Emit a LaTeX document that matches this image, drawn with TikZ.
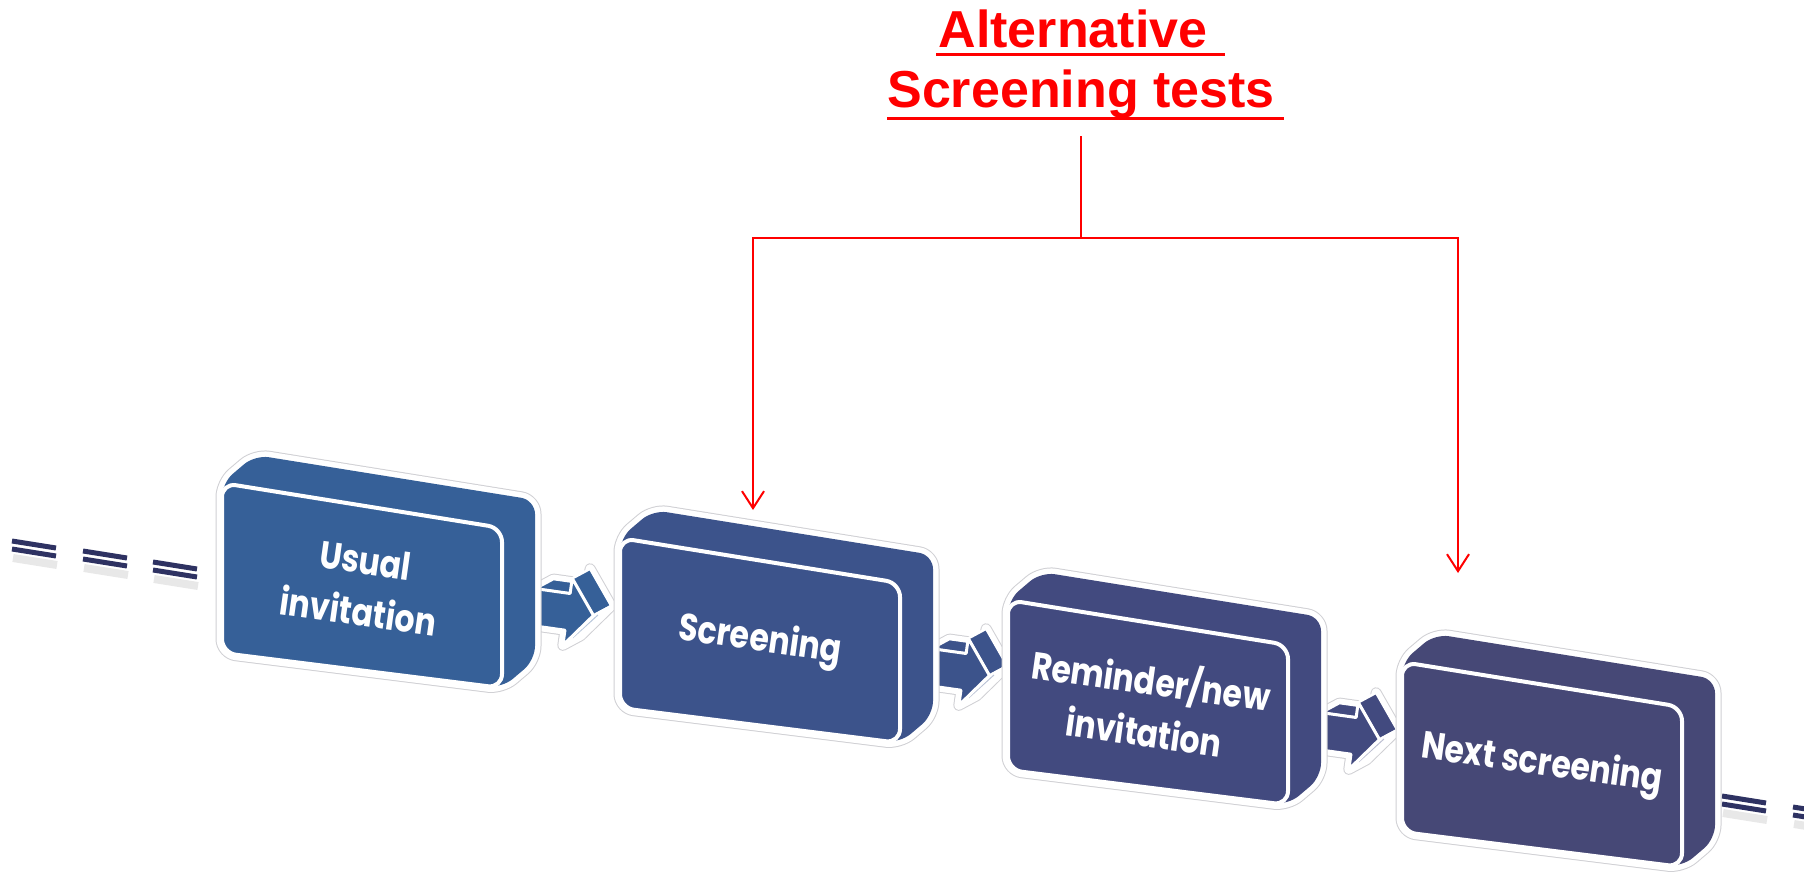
\documentclass[tikz,border=0pt]{standalone}
\usepackage{fontspec}
\setmainfont{Liberation Sans}
\newfontfamily\boxfont{Poppins}
\usetikzlibrary{arrows.meta}
\definecolor{boxA}{RGB}{54,96,152}
\definecolor{boxB}{RGB}{60,83,139}
\definecolor{boxC}{RGB}{66,74,127}
\definecolor{boxD}{RGB}{70,72,118}
\definecolor{dashc}{RGB}{46,50,98}
\definecolor{haloc}{RGB}{208,208,212}
\definecolor{titlered}{RGB}{255,0,0}

\tikzset{
  halo/.style={draw=haloc, line width=13pt, line join=round},
  haloin/.style={draw=white, fill=white, line width=11pt, line join=round},
  boxtext/.style={text=white, align=center, font=\boxfont\bfseries\fontsize{38}{52}\selectfont, inner sep=0pt},
  redline/.style={draw=titlered, line width=2pt},
  redarrow/.style={redline, -{Straight Barb[length=17pt,width=22pt]}},
  titletext/.style={text=titlered, font=\bfseries\fontsize{52}{60}\selectfont, inner sep=0pt},
  underl/.style={draw=titlered, line width=3pt},
  dashline/.style={draw=dashc, line width=5pt},
  dashshadow/.style={draw=gray, line width=8pt, opacity=0.18},
}

% 3D box: x, y (front top-left, px), colour, node name, text
\newcommand\cubebox[5]{%
  \begin{scope}[shift={(#1,#2)}]
    \path[halo, rounded corners=14pt] (0,170) -- (0,0) -- (33,-28) -- (313,17) -- (313,177) -- (280,205) -- cycle;
    \path[haloin, rounded corners=14pt] (0,170) -- (0,0) -- (33,-28) -- (313,17) -- (313,177) -- (280,205) -- cycle;
    \path[fill=#3, rounded corners=14pt] (0,170) -- (0,0) -- (33,-28) -- (313,17) -- (313,177) -- (280,205) -- cycle;
    \path[fill=#3, draw=white, line width=4pt, rounded corners=14pt] (0,0) -- (280,45) -- (280,205) -- (0,170) -- cycle;
    \node[boxtext, rotate=-8, xscale=0.83] (#4) at (140,103) {#5};
  \end{scope}}

% 3D block arrow: x, y (shaft left centre, px), colour
\newcommand\blockarrow[3]{%
  \begin{scope}[shift={(#1,#2)}, rotate=-8, scale=1.09]
    \path[draw=haloc, line width=11pt, line join=round] (0,17) -- (0,-17) -- (15,-28) -- (47,-28) -- (47,-42) -- (71,-11) -- (47,20) -- (32,31) -- (32,17) -- cycle;
    \path[draw=white, fill=white, line width=9pt, line join=round] (0,17) -- (0,-17) -- (15,-28) -- (47,-28) -- (47,-42) -- (71,-11) -- (47,20) -- (32,31) -- (32,17) -- cycle;
    \path[fill=#3, draw=white, line width=2.5pt, line join=round] (0,-17) -- (15,-28) -- (47,-28) -- (32,-17) -- cycle;
    \path[fill=#3, draw=white, line width=2.5pt, line join=round] (32,-31) -- (47,-42) -- (71,-11) -- (56,0) -- cycle;
    \path[fill=white, draw=white, line width=2.5pt, line join=round] (56,0) -- (71,-11) -- (47,20) -- (32,31) -- cycle;
    \path[draw=#3!35, line width=1pt] (60,-1) -- (40,23);
    \path[fill=#3, draw=white, line width=3pt, line join=round] (0,-17) -- (32,-17) -- (32,-31) -- (56,0) -- (32,31) -- (32,17) -- (0,17) -- cycle;
  \end{scope}}

% double dash "="
\newcommand\eqdash[2]{%
  \begin{scope}[shift={(#1,#2)}]
    \path[dashshadow] (1,17) -- (45,24);
    \path[dashline] (0,0) -- (44,7);
    \path[dashline] (0,8) -- (44,15);
  \end{scope}}

\begin{document}
\begin{tikzpicture}[x=1pt, y=-1pt]
  \useasboundingbox[fill=white] (0,0) rectangle (1804,878);

  % dashed continuation marks
  \eqdash{12}{541}
  \eqdash{83}{551}
  \eqdash{153}{562}
  \eqdash{1722}{796}
  \eqdash{1793}{807}

  % block arrows between the boxes
  \blockarrow{533}{607}{boxA}
  \blockarrow{929}{667}{boxB}
  \blockarrow{1319}{731}{boxC}

  % boxes
  \cubebox{222}{483}{boxA}{usual}{Usual\\invitation}
  \cubebox{620}{538}{boxB}{screen}{Screening}
  \cubebox{1008}{600}{boxC}{remind}{Reminder/new\\invitation}
  \cubebox{1402}{662}{boxD}{next}{Next screening}

  % title
  \node[titletext, anchor=base] (title1) at (1073,47) {Alternative};
  \node[titletext, anchor=base] (title2) at (1081,107) {Screening tests};
  \draw[underl] ([yshift=-7pt, xshift=-2pt]title1.base west) -- ([yshift=-7pt, xshift=17pt]title1.base east);
  \draw[underl] ([yshift=-11pt]title2.base west) -- ([yshift=-11pt, xshift=9pt]title2.base east);

  % red connectors
  \coordinate (stem) at (1081,136);
  \coordinate (fork) at (1081,238);
  \coordinate (in2) at (753,510);
  \coordinate (in4) at (1458,573);
  \draw[redline] (stem) -- (fork);
  \draw[redarrow] (fork) -| (in2);
  \draw[redarrow] (fork) -| (in4);
\end{tikzpicture}
\end{document}
